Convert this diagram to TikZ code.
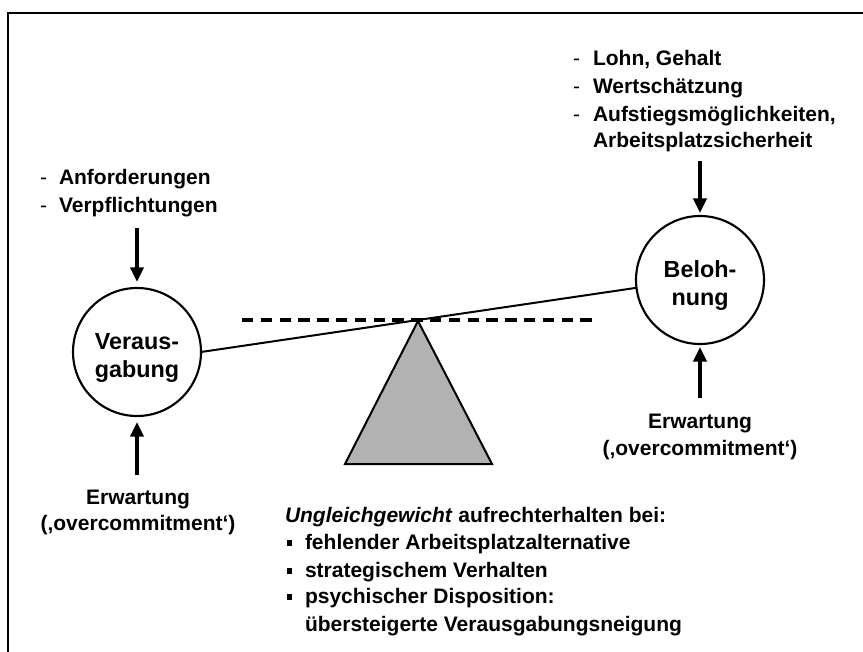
\documentclass[tikz,border=0pt]{standalone}
\usepackage{fontspec}
\setmainfont{Liberation Sans}
\usetikzlibrary{arrows.meta}
\definecolor{fulcrum}{RGB}{178,178,178}
\newcommand\sqbul{\rule[2.4pt]{4pt}{4pt}}
\begin{document}
\begin{tikzpicture}[x=0.75pt,y=-0.75pt,
  txt/.style={inner sep=0pt, outer sep=0pt, font=\fontsize{15.75}{21}\selectfont\bfseries},
  dsh/.style={inner sep=0pt, outer sep=0pt, font=\fontsize{15.75}{21}\selectfont},
  ctxt/.style={inner sep=0pt, outer sep=0pt, font=\fontsize{17.5}{21}\selectfont\bfseries},
  circ/.style={draw, circle, line width=1.6pt, minimum size=96pt, inner sep=0pt, outer sep=0pt},
  arr/.style={line width=2.4pt, -{Triangle[length=11pt,width=10pt]}}]
\useasboundingbox (0,0) rectangle (863,652);
% frame
\draw[line width=2pt, line join=miter] (8,652) -- (8,13) -- (863,13);
% circles
\node[circ] (L) at (137,352) {};
\node[circ] (R) at (700,280) {};
\node[ctxt, anchor=base] (L1) at (137,349) {Veraus-};
\node[ctxt, anchor=base] (L2) at (137,377) {gabung};
\node[ctxt, anchor=base] (R1) at (700,277) {Beloh-};
\node[ctxt, anchor=base] (R2) at (700,305) {nung};
% fulcrum
\coordinate (apex) at (418,321);
\coordinate (bR) at (492,464);
\coordinate (bL) at (345,464);
\filldraw[fill=fulcrum, draw=black, line width=1.5pt, line join=miter] (apex) -- (bR) -- (bL) -- cycle;
% beam
\draw[line width=1.5pt] (L.east) -- (R.187);
% dashed level
\coordinate (d1) at (242,320);
\coordinate (d2) at (592,320);
\draw[line width=3pt, dash pattern=on 8.5pt off 5.6pt] (d1) -- (d2);
% left list
\node[dsh, anchor=base west] (la) at (40,185) {-};
\node[txt, anchor=base west] (lat) at (59,185) {Anforderungen};
\node[dsh, anchor=base west] (lb) at (40,213) {-};
\node[txt, anchor=base west] (lbt) at (59,213) {Verpflichtungen};
% right list
\node[dsh, anchor=base west] (ra) at (573,66) {-};
\node[txt, anchor=base west] (rat) at (593,66) {Lohn, Gehalt};
\node[dsh, anchor=base west] (rb) at (573,94) {-};
\node[txt, anchor=base west] (rbt) at (593,94) {Wertschätzung};
\node[dsh, anchor=base west] (rc) at (573,122) {-};
\node[txt, anchor=base west] (rct) at (593,122) {Aufstiegsmöglichkeiten,};
\node[txt, anchor=base west] (rdt) at (593,148) {Arbeitsplatzsicherheit};
% arrows
\coordinate (LA) at (137,228);
\coordinate (RA) at (700,161);
\coordinate (LB) at (137,475);
\coordinate (RB) at (700,398);
\draw[arr, shorten >=4.5pt] (LA) -- (L);
\draw[arr, shorten >=2.25pt] (RA) -- (R);
\draw[arr, shorten >=4.5pt] (LB) -- (L);
\draw[arr, shorten >=2.25pt] (RB) -- (R);
% expectations
\node[txt, anchor=base] (LE1) at (138,504) {Erwartung};
\node[txt, anchor=base] (LE2) at (138,530) {(‚overcommitment‘)};
\node[txt, anchor=base] (RE1) at (700,428) {Erwartung};
\node[txt, anchor=base] (RE2) at (700,455) {(‚overcommitment‘)};
% bottom text
\node[txt, anchor=base west] (U0) at (285,522) {\textit{Ungleichgewicht} aufrechterhalten bei:};
\node[txt, anchor=base west] (U1) at (287,549) {\sqbul\hspace{9.5pt}fehlender Arbeitsplatzalternative};
\node[txt, anchor=base west] (U2) at (287,577) {\sqbul\hspace{9.5pt}strategischem Verhalten};
\node[txt, anchor=base west] (U3) at (287,603) {\sqbul\hspace{9.5pt}psychischer Disposition:};
\node[txt, anchor=base west] (U4) at (305,631) {übersteigerte Verausgabungsneigung};
\end{tikzpicture}
\end{document}
